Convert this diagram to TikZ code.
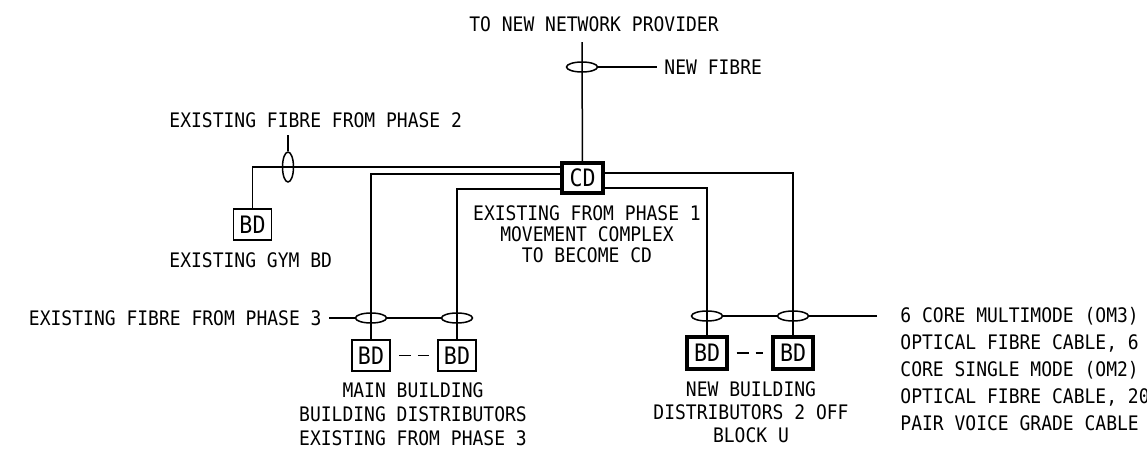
\documentclass[tikz,border=0pt]{standalone}
\usepackage{fontspec}
\setmonofont[FakeStretch=0.9]{DejaVu Sans Mono}
\usetikzlibrary{shapes.geometric}
\begin{document}
\begin{tikzpicture}[x=0.5pt,y=-0.5pt,line width=0.75pt,
  font=\ttfamily\fontsize{10}{11}\selectfont,
  lab/.style={align=center,font=\ttfamily\fontsize{10}{#1}\selectfont},
  box/.style={draw,minimum width=19pt,minimum height=15.5pt,inner sep=0pt,
    font=\ttfamily\fontsize{12}{12}\selectfont},
  newbox/.style={box,line width=1.6pt,minimum width=20pt,minimum height=16pt},
  tie/.style={draw,ellipse,minimum width=15.5pt,minimum height=5pt,inner sep=0pt},
  vtie/.style={draw,ellipse,minimum width=5.5pt,minimum height=15pt,inner sep=0pt},
  link/.style={dash pattern=on 6pt off 3.5pt,shorten <=4pt,shorten >=4pt}]
  \useasboundingbox (0,0) rectangle (1147,456);

  % campus distributor
  \node[newbox,minimum width=20.5pt,minimum height=15pt] (cd) at (582.5,178) {CD};
  \node[lab=10.5pt] (cdlab) at (587,234) {EXISTING FROM PHASE 1\\MOVEMENT COMPLEX\\TO BECOME CD};

  % new network provider
  \node (provider) at (594,24) {TO NEW NETWORK PROVIDER};
  \coordinate (ptop) at (582,42);
  \node[tie] (pt) at (582,67) {};
  \node[anchor=west] (newfibre) at (657,67) {NEW FIBRE};
  \draw (ptop) -- (cd);
  \draw (pt) -- (newfibre);

  % gym
  \node[anchor=west] (ph2) at (162,120) {EXISTING FIBRE FROM PHASE 2};
  \coordinate (gtop) at (288,135);
  \node[vtie] (gt) at (288,167) {};
  \node[box] (gym) at (252.5,224.5) {BD};
  \node[anchor=west] (gymlab) at (162,260) {EXISTING GYM BD};
  \draw (gtop) -- (gt);
  \draw ([yshift=5.5pt]cd.west) -| (gym);

  % main building
  \node[anchor=east] (ph3) at (329,318) {EXISTING FIBRE FROM PHASE 3};
  \node[tie] (mt1) at (371,318) {};
  \node[tie] (mt2) at (457,318) {};
  \node[box] (mbd1) at (371,355.5) {BD};
  \node[box] (mbd2) at (457,355.5) {BD};
  \node[lab=12pt] (mainlab) at (413,414) {MAIN BUILDING\\BUILDING DISTRIBUTORS\\EXISTING FROM PHASE 3};
  \draw ([yshift=2pt]cd.west) -| (mbd1);
  \draw ([yshift=-5.5pt]cd.west) -| (mbd2);
  \draw (ph3) -- (mt1) -- (mt2);
  \draw[link] (mbd1) -- (mbd2);

  % new building
  \node[tie] (nt1) at (707,316) {};
  \node[tie] (nt2) at (793,316) {};
  \node[newbox] (nbd1) at (707,353) {BD};
  \node[newbox] (nbd2) at (793,353) {BD};
  \node[lab=11.5pt] (newlab) at (751,412) {NEW BUILDING\\DISTRIBUTORS 2 OFF\\BLOCK U};
  \draw ([yshift=-5pt]cd.east) -| (nbd1);
  \draw ([yshift=2.5pt]cd.east) -| (nbd2);
  \coordinate (cab) at (877,316);
  \draw (cab) -- (nt2) -- (nt1);
  \draw[link] (nbd1) -- (nbd2);
  \node[lab=13.5pt,align=left,anchor=west] (cable) at (893,369)
    {6 CORE MULTIMODE (OM3)\\OPTICAL FIBRE CABLE, 6\\CORE SINGLE MODE (OM2)\\OPTICAL FIBRE CABLE, 20\\PAIR VOICE GRADE CABLE};
\end{tikzpicture}
\end{document}
